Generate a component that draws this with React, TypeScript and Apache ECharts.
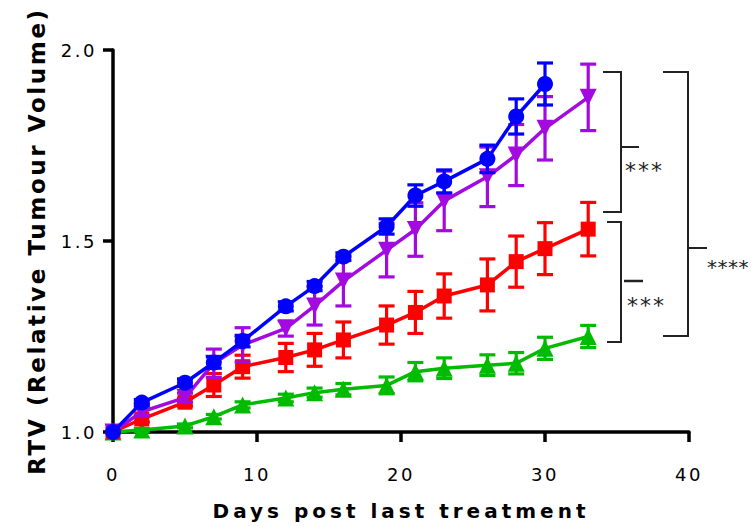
import React, { useEffect, useRef } from "react";
import * as echarts from "echarts";

const blueDays = [0, 2, 5, 7, 9, 12, 14, 16, 19, 21, 23, 26, 28, 30];
const blueMean = [1.0, 1.077, 1.129, 1.182, 1.238, 1.329, 1.382, 1.459, 1.538, 1.619, 1.656, 1.715, 1.826, 1.911];
const blueErr = [0, 0.008, 0.01, 0.015, 0.015, 0.012, 0.012, 0.01, 0.02, 0.028, 0.03, 0.036, 0.046, 0.055];

const purpleDays = [0, 2, 5, 7, 9, 12, 14, 16, 19, 21, 23, 26, 28, 30, 33];
const purpleMean = [1.0, 1.053, 1.09, 1.18, 1.228, 1.271, 1.33, 1.395, 1.476, 1.53, 1.605, 1.668, 1.725, 1.795, 1.876];
const purpleErr = [0, 0.01, 0.012, 0.037, 0.045, 0.02, 0.05, 0.065, 0.07, 0.07, 0.078, 0.078, 0.08, 0.083, 0.087];

const redDays = [0, 2, 5, 7, 9, 12, 14, 16, 19, 21, 23, 26, 28, 30, 33];
const redMean = [1.0, 1.034, 1.078, 1.123, 1.171, 1.195, 1.215, 1.241, 1.28, 1.313, 1.356, 1.385, 1.446, 1.48, 1.531];
const redErr = [0, 0.008, 0.01, 0.03, 0.03, 0.037, 0.043, 0.047, 0.05, 0.055, 0.058, 0.068, 0.067, 0.068, 0.07];

const greenDays = [0, 2, 5, 7, 9, 12, 14, 16, 19, 21, 23, 26, 28, 30, 33];
const greenMean = [1.0, 1.005, 1.016, 1.04, 1.071, 1.089, 1.103, 1.112, 1.122, 1.158, 1.167, 1.175, 1.18, 1.219, 1.25];
const greenErr = [0, 0.004, 0.005, 0.006, 0.008, 0.01, 0.012, 0.015, 0.022, 0.024, 0.027, 0.027, 0.028, 0.029, 0.029];

const xTicks = { min: 0, max: 40, interval: 10 };
const yTicks = { min: 1.0, max: 2.0, interval: 0.5 };

const xTitle = "Days post last treatment";
const yTitle = "RTV (Relative Tumour Volume)";
const sig1 = "***";
const sig2 = "***";
const sig3 = "****";

const BLUE = "#0000ff";
const PURPLE = "#a30ae0";
const RED = "#ff0000";
const GREEN = "#00bb00";
const BLACK = "#000000";
const BR = "#222222";

function errSeries(days: number[], mean: number[], err: number[], color: string, z: number) {
  const data = days.map((d, i) => [d, mean[i] - err[i], mean[i] + err[i]]);
  return {
    type: "custom",
    z,
    clip: false,
    encode: { x: 0, y: [1, 2] },
    data,
    renderItem: (params: any, api: any) => {
      const x = api.value(0);
      const lo = api.value(1);
      const hi = api.value(2);
      if (hi - lo < 1e-6) return { type: "group", children: [] };
      const p1 = api.coord([x, hi]);
      const p2 = api.coord([x, lo]);
      const w = 8;
      const style = { stroke: color, lineWidth: 3.2 };
      return {
        type: "group",
        children: [
          { type: "line", shape: { x1: p1[0], y1: p1[1], x2: p2[0], y2: p2[1] }, style },
          { type: "line", shape: { x1: p1[0] - w, y1: p1[1], x2: p1[0] + w, y2: p1[1] }, style },
          { type: "line", shape: { x1: p2[0] - w, y1: p2[1], x2: p2[0] + w, y2: p2[1] }, style },
        ],
      };
    },
  };
}

function lineSeries(days: number[], mean: number[], color: string, symbol: string, size: number, z: number) {
  return {
    type: "line",
    z,
    data: days.map((d, i) => [d, mean[i]]),
    symbol,
    symbolSize: size,
    showAllSymbol: true,
    clip: false,
    lineStyle: { color, width: 3.5 },
    itemStyle: { color, borderWidth: 0 },
  };
}

const spacing: Record<string, number> = {
  [xTitle]: 4,
  [yTitle]: 2.6,
  [sig1]: 2,
  [sig3]: 0.5,
};

export default function App() {
  const ref = useRef<HTMLDivElement>(null);
  useEffect(() => {
    if (!ref.current) return;
    const el = ref.current;
    const chart = echarts.init(el, undefined, { renderer: "svg" });
    const bl = { stroke: BR, lineWidth: 2, fill: "none" };
    const sigStyle = { fontFamily: "DejaVu Sans", fontSize: 22, fill: BR, textAlign: "left", textVerticalAlign: "middle" };
    chart.setOption({
      animation: false,
      backgroundColor: "#ffffff",
      grid: { left: 113, right: 64, top: 50, bottom: 95, containLabel: false },
      xAxis: {
        type: "value",
        min: xTicks.min,
        max: xTicks.max,
        interval: xTicks.interval,
        name: xTitle,
        nameLocation: "middle",
        nameGap: 69,
        nameTextStyle: { fontFamily: "DejaVu Sans", fontWeight: "bold", fontSize: 20, color: BLACK },
        axisLine: { show: true, onZero: false, lineStyle: { color: BLACK, width: 3.5 } },
        axisTick: { show: true, length: 10, lineStyle: { color: BLACK, width: 3.5 } },
        axisLabel: { margin: 33, fontFamily: "DejaVu Sans", fontSize: 18, color: BLACK },
        splitLine: { show: false },
      },
      yAxis: {
        type: "value",
        min: yTicks.min,
        max: yTicks.max,
        interval: yTicks.interval,
        name: yTitle,
        nameLocation: "middle",
        nameGap: 65,
        nameTextStyle: { fontFamily: "DejaVu Sans", fontWeight: "bold", fontSize: 23, color: BLACK },
        axisLine: { show: true, onZero: false, lineStyle: { color: BLACK, width: 3.5 } },
        axisTick: { show: true, length: 10, lineStyle: { color: BLACK, width: 3.5 } },
        axisLabel: {
          margin: 16,
          fontFamily: "DejaVu Sans",
          fontSize: 18,
          color: BLACK,
          formatter: (v: number) => v.toFixed(1),
        },
        splitLine: { show: false },
      },
      series: [
        errSeries(greenDays, greenMean, greenErr, GREEN, 2),
        lineSeries(greenDays, greenMean, GREEN, "triangle", 17, 2),
        errSeries(redDays, redMean, redErr, RED, 3),
        lineSeries(redDays, redMean, RED, "rect", 15, 3),
        errSeries(purpleDays, purpleMean, purpleErr, PURPLE, 4),
        lineSeries(purpleDays, purpleMean, PURPLE, "path://M0,0 L10,0 L5,9 Z", 17, 4),
        errSeries(blueDays, blueMean, blueErr, BLUE, 5),
        lineSeries(blueDays, blueMean, BLUE, "circle", 16, 5),
      ],
      graphic: [
        { type: "polyline", shape: { points: [[603, 72], [621, 72], [621, 212], [603, 212]] }, style: bl },
        { type: "line", shape: { x1: 621, y1: 147, x2: 639, y2: 147 }, style: bl },
        { type: "text", x: 625, y: 170, style: { ...sigStyle, text: sig1 } },
        { type: "polyline", shape: { points: [[607, 222], [621, 222], [621, 342], [607, 342]] }, style: bl },
        { type: "line", shape: { x1: 624, y1: 281, x2: 643, y2: 281 }, style: { stroke: BR, lineWidth: 2.5 } },
        { type: "text", x: 627, y: 305, style: { ...sigStyle, text: sig2 } },
        { type: "polyline", shape: { points: [[663, 72], [688, 72], [688, 336], [663, 336]] }, style: bl },
        { type: "line", shape: { x1: 688, y1: 248, x2: 707, y2: 248 }, style: bl },
        { type: "text", x: 707, y: 267, style: { ...sigStyle, fontSize: 20, text: sig3 } },
      ],
    });
    const applySpacing = () => {
      el.querySelectorAll("text").forEach((t) => {
        const s = (t.textContent || "").trim();
        let sp = spacing[s];
        if (sp === undefined && /^[0-9.]+$/.test(s)) sp = 2.5;
        if (sp !== undefined) (t as SVGTextElement).style.letterSpacing = sp + "px";
      });
    };
    applySpacing();
    chart.on("finished", applySpacing);
    return () => chart.dispose();
  }, []);
  return <div ref={ref} style={{ width: 753, height: 527, position: "absolute", left: 0, top: 0 }} />;
}
